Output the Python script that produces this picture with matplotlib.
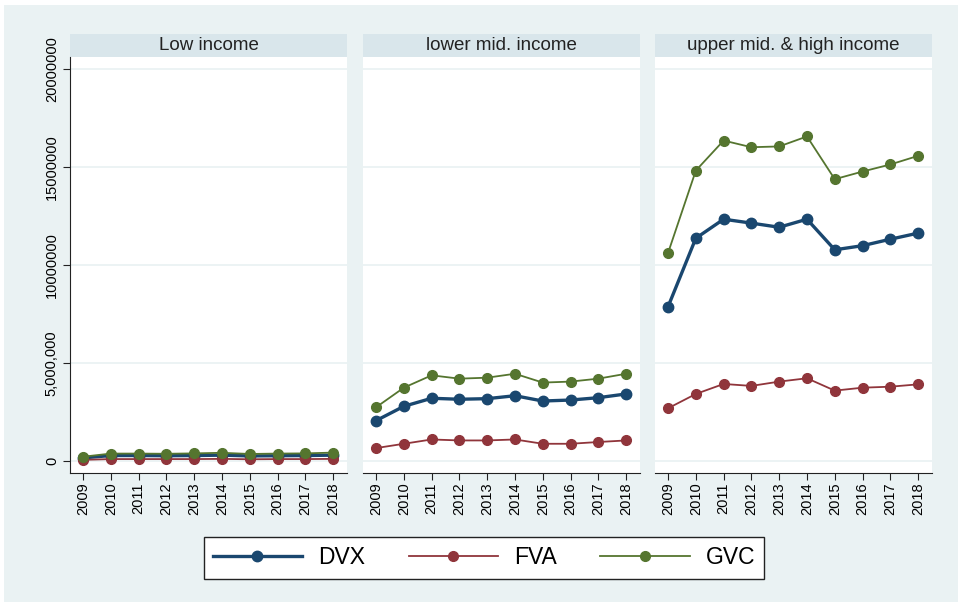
import matplotlib
matplotlib.use("Agg")
import matplotlib.pyplot as plt
from matplotlib.patches import Rectangle
from matplotlib.ticker import FixedLocator

plt.rcParams['font.family'] = ['Liberation Sans', 'DejaVu Sans']

years = [2009, 2010, 2011, 2012, 2013, 2014, 2015, 2016, 2017, 2018]
panels = ["Low income", "lower mid. income", "upper mid. & high income"]

# values in millions
dvx_low = [0.16, 0.28, 0.28, 0.27, 0.28, 0.30, 0.26, 0.27, 0.28, 0.30]
fva_low = [0.06, 0.10, 0.10, 0.10, 0.10, 0.11, 0.09, 0.10, 0.10, 0.11]
gvc_low = [0.22, 0.38, 0.38, 0.37, 0.39, 0.42, 0.36, 0.38, 0.39, 0.43]

dvx_mid = [2.06, 2.79, 3.20, 3.15, 3.18, 3.33, 3.06, 3.11, 3.23, 3.42]
fva_mid = [0.66, 0.88, 1.10, 1.05, 1.05, 1.10, 0.88, 0.88, 0.97, 1.05]
gvc_mid = [2.74, 3.74, 4.37, 4.20, 4.25, 4.45, 4.00, 4.05, 4.20, 4.45]

dvx_high = [7.87, 11.36, 12.33, 12.13, 11.92, 12.33, 10.77, 10.98, 11.31, 11.62]
fva_high = [2.69, 3.42, 3.93, 3.83, 4.05, 4.22, 3.59, 3.74, 3.79, 3.91]
gvc_high = [10.61, 14.81, 16.34, 16.00, 16.04, 16.55, 14.37, 14.76, 15.12, 15.56]

series_names = ["DVX", "FVA", "GVC"]
colors = ["#1a476f", "#90353b", "#55752f"]
widths = [2.4, 1.3, 1.3]
msizes = [7.5, 7.0, 7.0]

data = [
    [dvx_low, fva_low, gvc_low],
    [dvx_mid, fva_mid, gvc_mid],
    [dvx_high, fva_high, gvc_high],
]

yticks = [0, 5000000, 10000000, 15000000, 20000000]
ylabels = ["0", "5,000,000", "10000000", "15000000", "20000000"]

W, H = 958, 604
bg = "#eaf2f3"
fig = plt.figure(figsize=(W / 100, H / 100), dpi=100)
fig.patch.set_facecolor("white")
fig.patches.append(Rectangle((4 / W, 2 / H), 954 / W, 597 / H, transform=fig.transFigure,
                             facecolor=bg, edgecolor="none", zorder=-5))

lefts = [70, 363, 655]
pw = 277
top, bottom = 57, 473

handles = []
for i, name in enumerate(panels):
    x0 = lefts[i]
    ax = fig.add_axes([x0 / W, 1 - bottom / H, pw / W, (bottom - top) / H])
    ax.set_facecolor("white")
    # header strip
    fig.patches.append(Rectangle((x0 / W, 1 - top / H), pw / W, 23 / H, transform=fig.transFigure,
                                 facecolor="#d9e6eb", edgecolor="none", zorder=-4))
    fig.text((x0 + pw / 2) / W, 1 - 45.5 / H, name, ha="center", va="center", fontsize=13.5,
             color="#222222")

    for vals, nm, c, lw, ms in zip(data[i], series_names, colors, widths, msizes):
        h, = ax.plot(years, [v * 1e6 for v in vals], color=c, lw=lw, marker="o", ms=ms,
                     label=nm, zorder=3)
        if i == 0:
            handles.append(h)

    ax.set_xlim(2009 - 0.47, 2018 + 0.5)
    ax.set_ylim(-0.61e6, 20.6e6)
    ax.yaxis.set_major_locator(FixedLocator(yticks))
    ax.grid(axis="y", color=bg, lw=1.3, zorder=0)
    ax.set_xticks(years)
    ax.set_xticklabels([str(y) for y in years], rotation=90, fontsize=10.5)
    for s in ["top", "right"]:
        ax.spines[s].set_visible(False)
    ax.spines["bottom"].set_color("#222222")
    ax.tick_params(axis="x", length=5, width=0.8, color="#222222", pad=2)
    if i == 0:
        ax.spines["left"].set_color("#222222")
        ax.set_yticklabels(ylabels, rotation=90, va="center", fontsize=10.5)
        ax.tick_params(axis="y", length=5, width=0.8, color="#222222", pad=3)
    else:
        ax.spines["left"].set_visible(False)
        ax.tick_params(axis="y", length=0, labelleft=False)

leg = fig.legend(handles=handles, loc="center", bbox_to_anchor=(484 / W, 1 - 558 / H), ncol=3,
                 fontsize=16.5, handlelength=3.9, handletextpad=0.7, columnspacing=1.9,
                 frameon=True, fancybox=False, borderpad=0.4, borderaxespad=0)
leg.get_frame().set_edgecolor("#222222")
leg.get_frame().set_linewidth(1.0)
leg.get_frame().set_facecolor("white")
leg.get_frame().set_alpha(1)

fig.savefig("out.png", dpi=100, facecolor=fig.get_facecolor())
